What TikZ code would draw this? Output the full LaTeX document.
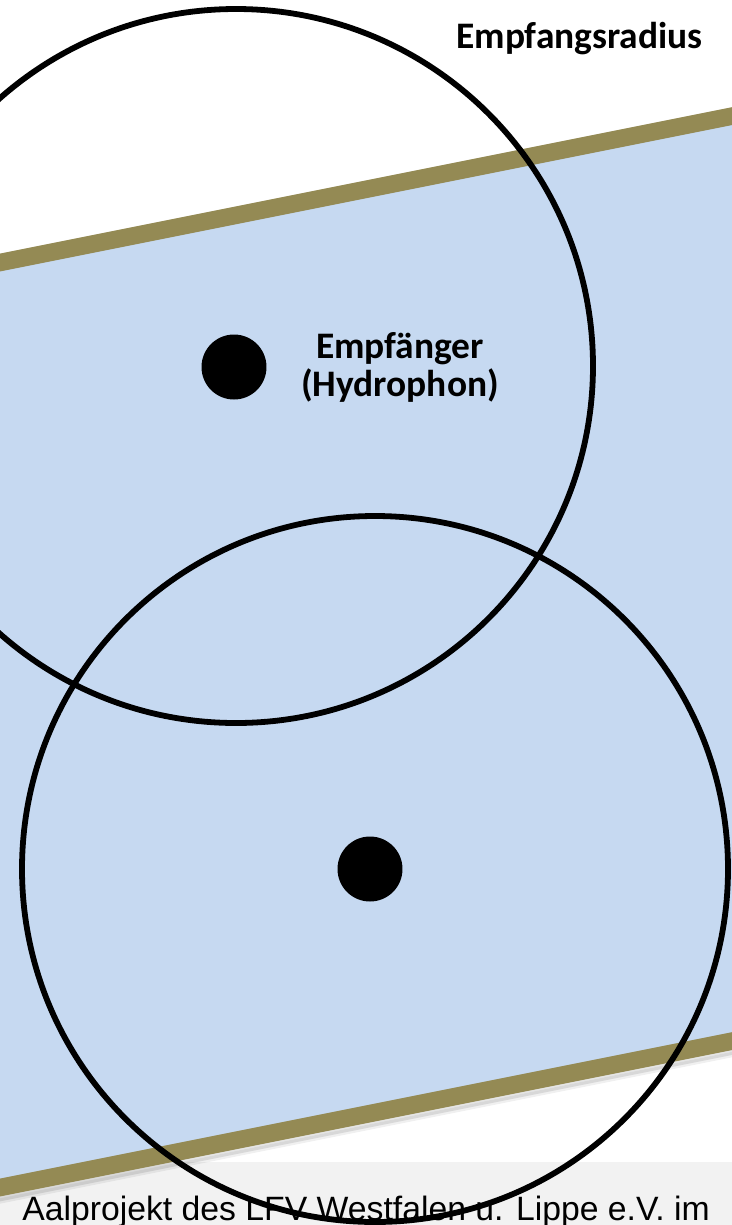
\documentclass[tikz,border=0pt]{standalone}
\usepackage{fontspec}
\setmainfont{Carlito}
\newfontfamily\arialfont{Liberation Sans}
\definecolor{water}{HTML}{C6D9F1}
\definecolor{bank}{HTML}{948A54}
\definecolor{footgray}{HTML}{F2F2F2}

\begin{document}
\begin{tikzpicture}[x=0.02cm, y=-0.02cm,
  lbl/.style={font=\fontsize{21.3}{21.6}\selectfont\bfseries, inner sep=0pt, align=center},
  dot/.style={circle, fill=black, inner sep=0pt, minimum size=1.3cm},
  rxrange/.style={draw=black, line width=3.3pt},
  shore/.style={draw=bank, line width=10pt}]
\useasboundingbox (0,0) rectangle (732,1225);
\clip (0,0) rectangle (732,1225);
% footer strip
\fill[footgray] (0,1162) rectangle (732,1225);
\node[font=\arialfont\fontsize{19.2}{22}\selectfont, anchor=base west, inner sep=0pt] (credit) at (22,1220) {Aalprojekt des LFV Westfalen u. Lippe e.V. im};
% river, slope -0.2
\fill[water] (-10,273) -- (742,122.6) -- (742,1030.6) -- (-10,1181) -- cycle;
% soft shadow under lower bank
\draw[black, opacity=0.1, line width=6pt] (-10,1198) -- (742,1047.6);
\draw[black, opacity=0.06, line width=3pt] (-10,1203) -- (742,1052.6);
% banks
\draw[shore] (-10,264.5) -- (742,114.1);
\draw[shore] (-10,1189.5) -- (742,1039.1);
% receiver ranges
\draw[rxrange] (236,366) circle[radius=357];
\draw[rxrange] (375,869) circle[radius=353];
% receivers
\node[dot] (rx1) at (234,367) {};
\node[dot] (rx2) at (370,869) {};
% labels
\node[lbl, anchor=base east] (radius) at (703,48) {Empfangsradius};
\node[lbl] (hydro) at (400,367) {Empfänger\\(Hydrophon)};
\end{tikzpicture}
\end{document}
